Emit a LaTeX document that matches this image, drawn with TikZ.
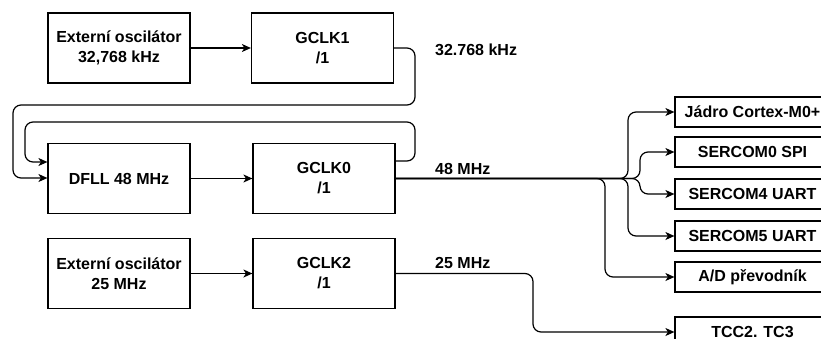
\documentclass[tikz,border=0pt]{standalone}
\usepackage{fontspec}
\setmainfont{Liberation Sans}
\usetikzlibrary{arrows.meta}
\begin{document}
\begin{tikzpicture}[x=1pt,y=-1pt,
  font=\fontsize{16}{20}\selectfont\bfseries,
  blk/.style={draw, line width=1.2pt, minimum width=142pt, minimum height=70pt, inner sep=0pt, align=center},
  outbox/.style={draw, line width=1.2pt, minimum width=155pt, minimum height=30pt, inner sep=0pt, align=center},
  conn/.style={line width=1.2pt, rounded corners=8pt},
  arr/.style={conn, -{Stealth[length=9pt,width=8pt,inset=2.5pt]}},
  lbl/.style={anchor=west, inner sep=0pt}]
\useasboundingbox (0,0) rectangle (821,338);
\node[blk] (osc1) at (119,48) {Externí oscilátor\\32,768 kHz};
\node[blk] (gclk1) at (322.5,48) {GCLK1\\/1};
\node[blk] (dfll) at (119,178.5) {DFLL 48 MHz};
\node[blk] (gclk0) at (324,178.5) {GCLK0\\/1};
\node[blk] (osc2) at (119,273.5) {Externí oscilátor\\25 MHz};
\node[blk] (gclk2) at (324,273.5) {GCLK2\\/1};

\node[outbox] (core) at (752.5,112) {Jádro Cortex-M0+};
\node[outbox] (s0) at (752.5,152) {SERCOM0 SPI};
\node[outbox] (s4) at (752.5,194) {SERCOM4 UART};
\node[outbox] (s5) at (752.5,236) {SERCOM5 UART};
\node[outbox] (adc) at (752.5,277) {A/D převodník};
\node[outbox] (tcc) at (752.5,332) {TCC2. TC3};

\node[lbl] (l1) at (435,50) {32.768 kHz};
\node[lbl] (l2) at (435,169) {48 MHz};
\node[lbl] (l3) at (435,263) {25 MHz};

\draw[arr] (osc1) -- (gclk1);
\draw[arr] (dfll) -- (gclk0);
\draw[arr] (osc2) -- (gclk2);

\draw[arr] (gclk1.east) -- (415,48) -- (415,105) -- (13,105) -- (13,178) -- (dfll.west |- 0,178);
\draw[arr] (gclk0.east |- 0,161) -- (415,161) -- (415,122) -- (25,122) -- (25,162) -- (dfll.west |- 0,162);

\coordinate (o0) at (gclk0.east);
\draw[arr] (o0) -- (628,178.5) -- (628,112) -- (core.west);
\draw[arr] (o0) -- (640,178.5) -- (640,152) -- (s0.west);
\draw[arr] (o0) -- (640,178.5) -- (640,194) -- (s4.west);
\draw[arr] (o0) -- (628,178.5) -- (628,236) -- (s5.west);
\draw[arr] (o0) -- (605,178.5) -- (605,277) -- (adc.west);

\draw[arr] (gclk2.east) -- (533,273.5) -- (533,332) -- (tcc.west);
\end{tikzpicture}
\end{document}
